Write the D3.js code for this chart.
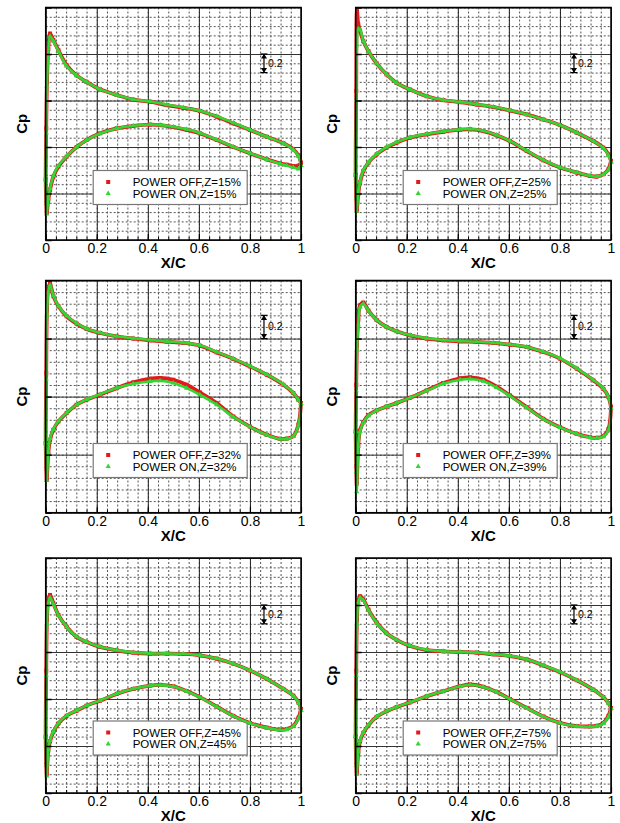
<!DOCTYPE html>
<html>
<head>
<meta charset="utf-8">
<script src="https://cdn.jsdelivr.net/npm/d3@7"></script>
<style>
    body {margin: 0; background: #fff;}
    svg {display: block;}
    text {font-family: 'Liberation Sans', Arial, sans-serif; fill: #000;}
</style>
</head>
<body>
<svg id="chart" width="620" height="823"></svg>
<script>
//x/c stations, upper surface (LE -> TE) and lower surface (LE -> TE)
var xUpper = [0, 0.002, 0.005, 0.01, 0.017, 0.03, 0.05, 0.082, 0.121, 0.16, 0.213, 0.278, 0.343, 0.409, 0.474, 0.539, 0.604, 0.67, 0.735, 0.8, 0.866, 0.931, 0.97, 0.99, 1.0];
var xLower = [0, 0.002, 0.004, 0.01, 0.017, 0.03, 0.05, 0.082, 0.121, 0.16, 0.213, 0.278, 0.343, 0.409, 0.448, 0.5, 0.552, 0.604, 0.67, 0.735, 0.8, 0.866, 0.918, 0.944, 0.97, 0.99, 1.0];

//Z=15%
var upOff15 = [0.35, -0.2, -0.7, -1.05, -1.22, -1.15, -1.04, -0.88, -0.77, -0.70, -0.62, -0.56, -0.51, -0.487, -0.45, -0.42, -0.387, -0.326, -0.254, -0.183, -0.11, -0.04, 0.025, 0.09, 0.17];
var upOn15 = [0.35, -0.15, -0.65, -1.0, -1.19, -1.14, -1.03, -0.87, -0.77, -0.70, -0.62, -0.56, -0.51, -0.49, -0.455, -0.425, -0.39, -0.33, -0.26, -0.185, -0.11, -0.04, 0.03, 0.1, 0.2];
var loOff15 = [0.35, 0.6, 0.71, 0.57, 0.46, 0.32, 0.21, 0.104, 0.0, -0.075, -0.147, -0.2, -0.226, -0.24, -0.235, -0.215, -0.185, -0.147, -0.075, 0.0, 0.068, 0.133, 0.175, 0.19, 0.205, 0.2, 0.17];
var loOn15 = [0.35, 0.6, 0.72, 0.56, 0.45, 0.31, 0.2, 0.1, 0.0, -0.075, -0.145, -0.2, -0.228, -0.242, -0.238, -0.218, -0.19, -0.15, -0.078, -0.003, 0.066, 0.133, 0.18, 0.2, 0.22, 0.235, 0.2];

//Z=25%
var upOff25 = [0.3, -0.6, -1.47, -1.32, -1.25, -1.136, -1.03, -0.90, -0.78, -0.69, -0.618, -0.546, -0.504, -0.482, -0.457, -0.43, -0.393, -0.35, -0.296, -0.236, -0.154, -0.064, 0.007, 0.08, 0.15];
var upOn25 = [0.3, -0.5, -1.1, -1.27, -1.26, -1.14, -1.03, -0.90, -0.78, -0.69, -0.618, -0.546, -0.506, -0.485, -0.46, -0.432, -0.395, -0.35, -0.296, -0.236, -0.154, -0.064, 0.01, 0.09, 0.16];
var loOff25 = [0.3, 0.55, 0.686, 0.507, 0.382, 0.257, 0.168, 0.079, 0.007, -0.046, -0.1, -0.136, -0.164, -0.186, -0.19, -0.171, -0.125, -0.064, 0.043, 0.143, 0.221, 0.275, 0.311, 0.318, 0.293, 0.239, 0.15];
var loOn25 = [0.3, 0.55, 0.69, 0.5, 0.375, 0.25, 0.165, 0.075, 0.0, -0.05, -0.105, -0.14, -0.168, -0.19, -0.194, -0.175, -0.128, -0.066, 0.04, 0.14, 0.218, 0.273, 0.31, 0.318, 0.295, 0.245, 0.16];

//Z=32%
var upOff32 = [0.4, -0.2, -0.75, -0.93, -0.974, -0.865, -0.778, -0.692, -0.629, -0.583, -0.548, -0.519, -0.5, -0.485, -0.473, -0.462, -0.439, -0.381, -0.324, -0.26, -0.188, -0.102, -0.03, 0.027, 0.056];
var upOn32 = [0.4, -0.15, -0.7, -0.9, -0.96, -0.87, -0.78, -0.695, -0.632, -0.585, -0.55, -0.52, -0.502, -0.488, -0.476, -0.465, -0.442, -0.385, -0.327, -0.263, -0.19, -0.105, -0.032, 0.03, 0.06];
var loOff32 = [0.4, 0.62, 0.718, 0.49, 0.373, 0.286, 0.214, 0.142, 0.07, 0.027, -0.016, -0.073, -0.122, -0.154, -0.16, -0.145, -0.102, -0.036, 0.056, 0.171, 0.258, 0.329, 0.364, 0.362, 0.34, 0.24, 0.056];
var loOn32 = [0.4, 0.62, 0.72, 0.48, 0.36, 0.28, 0.21, 0.14, 0.07, 0.025, -0.02, -0.075, -0.11, -0.131, -0.137, -0.117, -0.073, -0.016, 0.07, 0.175, 0.26, 0.33, 0.366, 0.364, 0.342, 0.245, 0.06];

//Z=39%
var upOff39 = [0.3, -0.1, -0.45, -0.66, -0.787, -0.81, -0.74, -0.66, -0.60, -0.563, -0.528, -0.5, -0.485, -0.476, -0.47, -0.462, -0.447, -0.427, -0.384, -0.327, -0.24, -0.14, -0.068, 0.004, 0.09];
var upOn39 = [0.3, -0.05, -0.4, -0.62, -0.77, -0.8, -0.74, -0.66, -0.60, -0.563, -0.53, -0.503, -0.488, -0.479, -0.472, -0.464, -0.449, -0.428, -0.386, -0.33, -0.243, -0.143, -0.07, 0.004, 0.1];
var loOff39 = [0.3, 0.6, 0.75, 0.42, 0.292, 0.22, 0.16, 0.119, 0.085, 0.056, 0.01, -0.053, -0.117, -0.158, -0.166, -0.145, -0.085, -0.01, 0.091, 0.191, 0.263, 0.321, 0.35, 0.355, 0.34, 0.28, 0.09];
var loOn39 = [0.3, 0.65, 0.82, 0.43, 0.3, 0.225, 0.165, 0.12, 0.085, 0.055, 0.01, -0.05, -0.11, -0.145, -0.152, -0.132, -0.078, -0.005, 0.095, 0.193, 0.265, 0.322, 0.352, 0.358, 0.345, 0.29, 0.1];

//Z=45%
var upOff45 = [0.4, -0.3, -0.85, -1.05, -1.107, -1.018, -0.893, -0.768, -0.66, -0.607, -0.554, -0.518, -0.493, -0.482, -0.482, -0.479, -0.464, -0.429, -0.375, -0.304, -0.214, -0.107, -0.036, 0.036, 0.107];
var upOn45 = [0.4, -0.25, -0.8, -1.02, -1.08, -1.01, -0.89, -0.768, -0.662, -0.608, -0.556, -0.52, -0.496, -0.485, -0.485, -0.481, -0.466, -0.43, -0.376, -0.305, -0.215, -0.108, -0.035, 0.04, 0.12];
var loOff45 = [0.4, 0.7, 0.8, 0.55, 0.45, 0.35, 0.26, 0.179, 0.125, 0.071, 0.018, -0.054, -0.107, -0.143, -0.15, -0.135, -0.085, -0.02, 0.08, 0.18, 0.255, 0.305, 0.328, 0.321, 0.286, 0.2, 0.107];
var loOn45 = [0.4, 0.7, 0.82, 0.54, 0.44, 0.345, 0.255, 0.175, 0.122, 0.07, 0.016, -0.055, -0.108, -0.142, -0.148, -0.133, -0.083, -0.018, 0.082, 0.182, 0.257, 0.307, 0.33, 0.324, 0.29, 0.21, 0.12];

//Z=75%
var upOff75 = [0.4, -0.3, -0.85, -1.05, -1.093, -1.06, -0.95, -0.814, -0.7, -0.629, -0.564, -0.521, -0.507, -0.5, -0.493, -0.475, -0.457, -0.421, -0.357, -0.286, -0.2, -0.1, -0.021, 0.043, 0.096];
var upOn75 = [0.4, -0.25, -0.8, -1.03, -1.08, -1.05, -0.945, -0.81, -0.7, -0.63, -0.566, -0.523, -0.508, -0.501, -0.494, -0.477, -0.459, -0.423, -0.359, -0.288, -0.2, -0.1, -0.02, 0.045, 0.1];
var loOff75 = [0.4, 0.7, 0.79, 0.57, 0.45, 0.36, 0.28, 0.19, 0.13, 0.086, 0.036, -0.029, -0.082, -0.136, -0.154, -0.129, -0.075, 0.0, 0.095, 0.185, 0.253, 0.288, 0.292, 0.286, 0.255, 0.18, 0.096];
var loOn75 = [0.4, 0.7, 0.8, 0.56, 0.44, 0.355, 0.275, 0.188, 0.128, 0.085, 0.035, -0.03, -0.083, -0.135, -0.152, -0.127, -0.073, 0.002, 0.097, 0.187, 0.255, 0.29, 0.295, 0.29, 0.26, 0.19, 0.1];

//span stations, axis ticks, Cp ranges per row and scale bar start
var spanLabels = ['15%', '25%', '32%', '39%', '45%', '75%'];
var xTicks = [0, 0.2, 0.4, 0.6, 0.8, 1];
var cpRanges = [[-1.5, 1.0], [-1.0, 1.0], [-1.5, 1.0]];
var scaleBarCp = [-1.0, -0.7, -1.0];

//panel list
var panels = [
    {z: spanLabels[0], upOff: upOff15, upOn: upOn15, loOff: loOff15, loOn: loOn15},
    {z: spanLabels[1], upOff: upOff25, upOn: upOn25, loOff: loOff25, loOn: loOn25},
    {z: spanLabels[2], upOff: upOff32, upOn: upOn32, loOff: loOff32, loOn: loOn32},
    {z: spanLabels[3], upOff: upOff39, upOn: upOn39, loOff: loOff39, loOn: loOn39},
    {z: spanLabels[4], upOff: upOff45, upOn: upOn45, loOff: loOff45, loOn: loOn45},
    {z: spanLabels[5], upOff: upOff75, upOn: upOn75, loOff: loOff75, loOn: loOn75}
];

//layout
var colLeft = [45.7, 355.7],
    plotW = 255.3,
    rowBox = [{top: 7.5, bottom: 240}, {top: 280.5, bottom: 512.7}, {top: 558, bottom: 793}];

var red = '#e31a1c',
    green = '#33d633';

var svg = d3.select('#chart');

function drawPanel(p, i) {
    var row = Math.floor(i / 2), col = i % 2;
    var left = colLeft[col],
        top = rowBox[row].top,
        bottom = rowBox[row].bottom,
        height = bottom - top;

    //define scales
    var xScale = d3.scaleLinear().domain([0, 1]).range([0, plotW]),
        yScale = d3.scaleLinear().domain(cpRanges[row]).range([0, height]);

    var minorX = d3.range(0, 26).map(k => k * 0.04),
        minorY = d3.range(Math.round(cpRanges[row][0] * 10), Math.round(cpRanges[row][1] * 10) + 1).map(k => k / 10),
        majorY = minorY.filter(v => Math.abs(v * 2 - Math.round(v * 2)) < 1e-6);

    var canvas = svg.append('g')
        .attr('transform', 'translate(' + left + ',' + top + ')');

    //minor gridlines
    canvas.append('g')
        .call(d3.axisBottom(xScale).tickValues(minorX).tickSize(height).tickFormat(''))
        .call(g => g.select('.domain').remove())
        .selectAll('line').attr('stroke', '#555').attr('stroke-dasharray', '2,2');
    canvas.append('g')
        .call(d3.axisRight(yScale).tickValues(minorY).tickSize(plotW).tickFormat(''))
        .call(g => g.select('.domain').remove())
        .selectAll('line').attr('stroke', '#555').attr('stroke-dasharray', '2,2');

    //major gridlines
    canvas.append('g')
        .call(d3.axisBottom(xScale).tickValues(xTicks).tickSize(height).tickFormat(''))
        .call(g => g.select('.domain').remove())
        .selectAll('line').attr('stroke', '#222');
    canvas.append('g')
        .call(d3.axisRight(yScale).tickValues(majorY).tickSize(plotW).tickFormat(''))
        .call(g => g.select('.domain').remove())
        .selectAll('line').attr('stroke', '#333');

    //legend
    var lg = canvas.append('g').attr('transform', 'translate(47.5,163)');
    lg.append('rect')
        .attr('width', 154).attr('height', 34)
        .attr('fill', '#fff').attr('stroke', '#777').attr('stroke-width', 1.2);
    lg.append('rect')
        .attr('x', 13).attr('y', 9.5).attr('width', 4).attr('height', 4)
        .attr('fill', red);
    lg.append('path')
        .attr('d', d3.symbol(d3.symbolTriangle).size(12)())
        .attr('transform', 'translate(15,23)')
        .attr('fill', green);
    lg.append('text')
        .attr('x', 39.5).attr('y', 15.5)
        .style('font-size', '11.5px')
        .text('POWER OFF,Z=' + p.z);
    lg.append('text')
        .attr('x', 39.5).attr('y', 27)
        .style('font-size', '11.5px')
        .text('POWER ON,Z=' + p.z);

    //pressure curves: upper surface reversed then lower surface
    var line = d3.line()
        .x(d => xScale(d[0]))
        .y(d => yScale(d[1]))
        .curve(d3.curveCatmullRom.alpha(0.5));

    function loop(up, lo) {
        var u = xUpper.map((x, k) => [x, up[k]]).reverse(),
            l = xLower.map((x, k) => [x, lo[k]]);
        return u.concat(l.slice(1));
    }

    var offPts = loop(p.upOff, p.loOff),
        onPts = loop(p.upOn, p.loOn);

    canvas.append('path')
        .attr('d', line(offPts))
        .attr('fill', 'none').attr('stroke', red).attr('stroke-width', 3.8);
    canvas.selectAll('.off').data(offPts)
        .enter().append('rect')
            .attr('class', 'off')
            .attr('x', d => xScale(d[0]) - 2)
            .attr('y', d => yScale(d[1]) - 2)
            .attr('width', 4).attr('height', 4)
            .attr('fill', red);

    canvas.append('path')
        .attr('d', line(onPts))
        .attr('fill', 'none').attr('stroke', green).attr('stroke-width', 2.6);
    canvas.selectAll('.on').data(onPts)
        .enter().append('path')
            .attr('class', 'on')
            .attr('d', d3.symbol(d3.symbolTriangle).size(12)())
            .attr('transform', d => 'translate(' + xScale(d[0]) + ',' + yScale(d[1]) + ')')
            .attr('fill', green);

    //0.2 scale bar
    var sx = xScale(0.855),
        y0 = yScale(scaleBarCp[row]),
        y1 = yScale(scaleBarCp[row] + 0.2);
    var bar = canvas.append('g').attr('stroke', '#000').attr('stroke-width', 1.2);
    bar.append('line').attr('x1', sx).attr('x2', sx).attr('y1', y0).attr('y2', y1);
    bar.append('line').attr('x1', sx - 3.5).attr('x2', sx + 3.5).attr('y1', y0).attr('y2', y0);
    bar.append('line').attr('x1', sx - 3.5).attr('x2', sx + 3.5).attr('y1', y1).attr('y2', y1);
    bar.append('path')
        .attr('d', 'M' + (sx - 2) + ',' + (y0 + 4) + 'L' + sx + ',' + (y0 + 1) + 'L' + (sx + 2) + ',' + (y0 + 4) + 'Z')
        .attr('fill', '#000');
    bar.append('path')
        .attr('d', 'M' + (sx - 2) + ',' + (y1 - 4) + 'L' + sx + ',' + (y1 - 1) + 'L' + (sx + 2) + ',' + (y1 - 4) + 'Z')
        .attr('fill', '#000');
    canvas.append('text')
        .attr('x', sx + 4).attr('y', (y0 + y1) / 2 + 3.5)
        .style('font-size', '10.5px')
        .text('0.2');

    //frame
    canvas.append('rect')
        .attr('width', plotW).attr('height', height)
        .attr('fill', 'none').attr('stroke', '#000').attr('stroke-width', 1.5);

    //x axis with inward ticks
    canvas.append('g')
        .attr('transform', 'translate(0,' + height + ')')
        .call(d3.axisBottom(xScale).tickValues(minorX).tickSize(-3).tickFormat(''))
        .call(g => g.select('.domain').remove())
        .selectAll('line').attr('stroke', '#000');
    var xAxis = canvas.append('g')
        .attr('transform', 'translate(0,' + height + ')')
        .call(d3.axisBottom(xScale).tickValues(xTicks).tickFormat(d => String(d))
            .tickSizeInner(-6).tickSizeOuter(0).tickPadding(3));
    xAxis.select('.domain').remove();
    xAxis.selectAll('line').attr('stroke', '#000').attr('stroke-width', 1.2);
    xAxis.selectAll('text')
        .attr('font-family', null)
        .style('font-size', '14px');

    //y axis inward ticks, no labels
    var yAxis = canvas.append('g')
        .call(d3.axisRight(yScale).tickValues(majorY).tickSize(6).tickFormat(''));
    yAxis.select('.domain').remove();
    yAxis.selectAll('line').attr('stroke', '#000').attr('stroke-width', 1.5);

    //axis labels
    canvas.append('text')
        .attr('x', plotW / 2).attr('y', height + 28)
        .attr('text-anchor', 'middle')
        .style('font-size', '15px').style('font-weight', 'bold')
        .text('X/C');
    canvas.append('text')
        .attr('transform', 'translate(-18.5,' + (height / 2) + ') rotate(-90)')
        .attr('text-anchor', 'middle')
        .style('font-size', '15px').style('font-weight', 'bold')
        .text('Cp');
}

panels.forEach(drawPanel);
</script>
</body>
</html>
